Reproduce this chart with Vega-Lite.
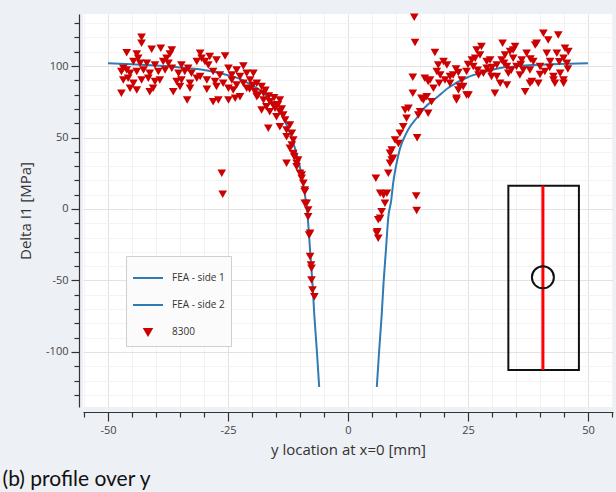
{
  "$schema": "https://vega.github.io/schema/vega-lite/v6.json",
  "width": 530,
  "height": 393,
  "autosize": "none",
  "padding": {"left": 83, "top": 14, "right": 3, "bottom": 85},
  "background": "#edf0f4",
  "config": {
    "view": {"fill": "white", "stroke": null},
    "font": "Open Sans",
    "axis": {"labelFont": "Open Sans", "titleFont": "Open Sans", "labelColor": "#444444", "titleColor": "#333333", "titleFontWeight": "normal", "domainColor": "#333333", "tickColor": "#333333", "domainWidth": 1.2, "tickWidth": 1.2}
  },
  "title": {"text": "(b) profile over y", "orient": "bottom", "anchor": "start", "dx": -16, "offset": 12, "fontSize": 21, "fontWeight": "normal", "font": "Lato", "color": "#111111"},
  "datasets": {
    "fea": [
      {"series": "FEA - side 1", "x": -50, "y": 102}, {"series": "FEA - side 1", "x": -45, "y": 101.3}, {"series": "FEA - side 1", "x": -40, "y": 100.4}, {"series": "FEA - side 1", "x": -37.7, "y": 100}, {"series": "FEA - side 1", "x": -35, "y": 99}, {"series": "FEA - side 1", "x": -30, "y": 97.3}, {"series": "FEA - side 1", "x": -28, "y": 96}, {"series": "FEA - side 1", "x": -25, "y": 93.5}, {"series": "FEA - side 1", "x": -22.5, "y": 91}, {"series": "FEA - side 1", "x": -20, "y": 86.5}, {"series": "FEA - side 1", "x": -18.3, "y": 83}, {"series": "FEA - side 1", "x": -16.5, "y": 77.5}, {"series": "FEA - side 1", "x": -14.8, "y": 71}, {"series": "FEA - side 1", "x": -13.5, "y": 64}, {"series": "FEA - side 1", "x": -12.1, "y": 53}, {"series": "FEA - side 1", "x": -11, "y": 42}, {"series": "FEA - side 1", "x": -10, "y": 29}, {"series": "FEA - side 1", "x": -9.4, "y": 18}, {"series": "FEA - side 1", "x": -8.8, "y": 6}, {"series": "FEA - side 1", "x": -8.4, "y": -5.6}, {"series": "FEA - side 1", "x": -7.9, "y": -28.7}, {"series": "FEA - side 1", "x": -7.4, "y": -52}, {"series": "FEA - side 1", "x": -7.0, "y": -75}, {"series": "FEA - side 1", "x": -6.5, "y": -98.6}, {"series": "FEA - side 1", "x": -6.0, "y": -124.5},
      {"series": "FEA - side 2", "x": 6.0, "y": -124.5}, {"series": "FEA - side 2", "x": 6.5, "y": -98.6}, {"series": "FEA - side 2", "x": 7.0, "y": -75}, {"series": "FEA - side 2", "x": 7.4, "y": -52}, {"series": "FEA - side 2", "x": 7.9, "y": -28.7}, {"series": "FEA - side 2", "x": 8.4, "y": -5.6}, {"series": "FEA - side 2", "x": 9.0, "y": 6}, {"series": "FEA - side 2", "x": 9.4, "y": 18}, {"series": "FEA - side 2", "x": 10.0, "y": 30}, {"series": "FEA - side 2", "x": 10.8, "y": 42}, {"series": "FEA - side 2", "x": 12, "y": 52}, {"series": "FEA - side 2", "x": 13, "y": 58}, {"series": "FEA - side 2", "x": 14.4, "y": 64}, {"series": "FEA - side 2", "x": 16, "y": 71}, {"series": "FEA - side 2", "x": 18.5, "y": 78}, {"series": "FEA - side 2", "x": 21, "y": 85}, {"series": "FEA - side 2", "x": 24.8, "y": 92}, {"series": "FEA - side 2", "x": 28, "y": 95.5}, {"series": "FEA - side 2", "x": 31.7, "y": 98.6}, {"series": "FEA - side 2", "x": 35, "y": 99.8}, {"series": "FEA - side 2", "x": 38.5, "y": 100.7}, {"series": "FEA - side 2", "x": 44, "y": 101.4}, {"series": "FEA - side 2", "x": 50, "y": 102}
    ],
    "meas": [
      {"x": -43.0, "y": 120.1}, {"x": -43.0, "y": 115.9}, {"x": -46.1, "y": 109.3}, {"x": -44.0, "y": 108.4}, {"x": -40.9, "y": 111.7}, {"x": -39.0, "y": 112.4}, {"x": -36.7, "y": 111.2}, {"x": -37.1, "y": 108.4}, {"x": -30.8, "y": 108.9}, {"x": -28.8, "y": 106.6}, {"x": -25.6, "y": 107.0}, {"x": -27.4, "y": 104.2}, {"x": -30.5, "y": 105.4},
      {"x": -46.8, "y": 98.4}, {"x": -44.7, "y": 103.1}, {"x": -43.7, "y": 105.4}, {"x": -43.3, "y": 101.9}, {"x": -41.9, "y": 101.9}, {"x": -40.2, "y": 100.7}, {"x": -38.5, "y": 103.1}, {"x": -37.8, "y": 105.4}, {"x": -37.4, "y": 101.9}, {"x": -34.7, "y": 100.7}, {"x": -33.3, "y": 98.4}, {"x": -31.5, "y": 103.1}, {"x": -29.8, "y": 103.1}, {"x": -29.1, "y": 100.7}, {"x": -24.9, "y": 98.4}, {"x": -23.2, "y": 97.2}, {"x": -21.8, "y": 100.0},
      {"x": -47.2, "y": 96.1}, {"x": -46.1, "y": 97.2}, {"x": -45.4, "y": 94.9}, {"x": -44.0, "y": 96.1}, {"x": -42.6, "y": 97.2}, {"x": -41.3, "y": 94.9}, {"x": -39.5, "y": 96.1}, {"x": -38.1, "y": 97.2}, {"x": -36.7, "y": 98.4}, {"x": -35.3, "y": 94.9}, {"x": -34.0, "y": 96.1}, {"x": -32.6, "y": 94.9}, {"x": -30.8, "y": 92.6}, {"x": -28.1, "y": 96.1}, {"x": -26.7, "y": 93.7}, {"x": -24.2, "y": 93.7}, {"x": -22.5, "y": 92.6}, {"x": -21.1, "y": 94.9}, {"x": -19.7, "y": 94.9},
      {"x": -46.8, "y": 90.2}, {"x": -45.8, "y": 91.4}, {"x": -44.7, "y": 87.9}, {"x": -43.0, "y": 90.2}, {"x": -41.6, "y": 91.4}, {"x": -40.2, "y": 89.1}, {"x": -39.2, "y": 90.2}, {"x": -35.7, "y": 89.1}, {"x": -34.7, "y": 90.2}, {"x": -32.9, "y": 87.9}, {"x": -31.5, "y": 91.4}, {"x": -29.4, "y": 90.2}, {"x": -27.7, "y": 89.1}, {"x": -26.0, "y": 87.9}, {"x": -24.2, "y": 90.2}, {"x": -23.2, "y": 86.7}, {"x": -21.8, "y": 87.9}, {"x": -20.4, "y": 90.2}, {"x": -19.0, "y": 87.9}, {"x": -18.0, "y": 85.6},
      {"x": -47.2, "y": 80.9}, {"x": -45.4, "y": 84.4}, {"x": -44.0, "y": 83.2}, {"x": -41.3, "y": 82.1}, {"x": -40.6, "y": 84.4}, {"x": -36.4, "y": 82.1}, {"x": -35.0, "y": 85.6}, {"x": -32.9, "y": 84.4}, {"x": -29.4, "y": 83.7}, {"x": -27.4, "y": 85.6}, {"x": -24.9, "y": 84.4}, {"x": -23.9, "y": 83.2}, {"x": -22.5, "y": 78.6}, {"x": -21.1, "y": 84.4}, {"x": -19.4, "y": 82.1}, {"x": -18.7, "y": 79.7}, {"x": -17.6, "y": 80.9},
      {"x": -33.5, "y": 76.2}, {"x": -28.1, "y": 75.1}, {"x": -24.9, "y": 76.2}, {"x": -23.5, "y": 77.4}, {"x": -19.0, "y": 78.6}, {"x": -17.6, "y": 76.2}, {"x": -16.3, "y": 75.1}, {"x": -14.2, "y": 76.2}, {"x": -15.6, "y": 72.7}, {"x": -17.0, "y": 71.6},
      {"x": -18.0, "y": 69.3}, {"x": -16.3, "y": 68.1}, {"x": -15.2, "y": 70.4}, {"x": -14.9, "y": 64.6}, {"x": -13.5, "y": 65.8}, {"x": -13.1, "y": 62.3}, {"x": -14.2, "y": 68.1},
      {"x": -16.6, "y": 56.4}, {"x": -14.2, "y": 57.6}, {"x": -12.8, "y": 55.3}, {"x": -12.1, "y": 58.8}, {"x": -11.7, "y": 52.9}, {"x": -12.8, "y": 50.6}, {"x": -11.4, "y": 48.3}, {"x": -11.7, "y": 44.8}, {"x": -12.1, "y": 42.5},
      {"x": -12.8, "y": 32.0}, {"x": -11.4, "y": 38.9}, {"x": -11.2, "y": 36.6}, {"x": -10.4, "y": 34.3}, {"x": -10.7, "y": 29.6}, {"x": -10.0, "y": 25.0}, {"x": -9.65, "y": 21.5}, {"x": -9.3, "y": 18.0}, {"x": -9.0, "y": 13.3}, {"x": -8.6, "y": 4.0}, {"x": -8.3, "y": -0.7}, {"x": -8.3, "y": -5.4}, {"x": -7.9, "y": -17.0}, {"x": -8.1, "y": -18.2}, {"x": -7.9, "y": -33.3}, {"x": -7.7, "y": -39.2}, {"x": -7.6, "y": -41.5}, {"x": -7.6, "y": -49.7}, {"x": -7.4, "y": -56.6}, {"x": -7.0, "y": -61.3}, {"x": -9.65, "y": 23.8}, {"x": -9.0, "y": 12.1}, {"x": -9.0, "y": 4.0}, {"x": -10.7, "y": 32.0},
      {"x": -26.3, "y": 25.0}, {"x": -26.1, "y": 10.3}, {"x": -27.0, "y": 76.2},
      {"x": -20.5, "y": 84}, {"x": -19.8, "y": 86.5}, {"x": -17.2, "y": 83}, {"x": -16.5, "y": 79}, {"x": -15.4, "y": 77.8}, {"x": -14.6, "y": 73}, {"x": -13.8, "y": 70},
      {"x": 5.8, "y": 21.5}, {"x": 7.4, "y": 9.8}, {"x": 8.1, "y": 11.0}, {"x": 7.7, "y": 4.0}, {"x": 7.0, "y": -1.9}, {"x": 6.7, "y": -6.5}, {"x": 6.1, "y": -15.9}, {"x": 6.3, "y": -20.5}, {"x": 8.75, "y": 32.0}, {"x": 9.4, "y": 35.5}, {"x": 8.4, "y": 25.0}, {"x": 9.1, "y": 41.3}, {"x": 6.7, "y": 11.0}, {"x": 6.3, "y": -7.6}, {"x": 6.0, "y": -17.0}, {"x": 9.1, "y": 34.3}, {"x": 8.75, "y": 39.0}, {"x": 9.8, "y": 48.3}, {"x": 10.8, "y": 53.0}, {"x": 10.5, "y": 45.9}, {"x": 11.5, "y": 57.6}, {"x": 12.2, "y": 63.4}, {"x": 12.6, "y": 70.4}, {"x": 11.9, "y": 69.3}, {"x": 14.65, "y": 65.8}, {"x": 15.7, "y": 76.3}, {"x": 15.3, "y": 77.4}, {"x": 16.4, "y": 78.6}, {"x": 17.4, "y": 75.1}, {"x": 16.7, "y": 67.0}, {"x": 15.0, "y": 68.1},
      {"x": 13.8, "y": 134.1}, {"x": 13.96, "y": 116.4}, {"x": 18.1, "y": 109.4}, {"x": 13.5, "y": 92.1}, {"x": 13.5, "y": 80.9}, {"x": 14.4, "y": 49.9}, {"x": 14.2, "y": 9.1}, {"x": 14.3, "y": -1.1},
      {"x": 16.0, "y": 91.4}, {"x": 16.7, "y": 89.1}, {"x": 17.8, "y": 84.4}, {"x": 18.5, "y": 96.1}, {"x": 19.2, "y": 93.7}, {"x": 19.9, "y": 103.1}, {"x": 20.6, "y": 100.7}, {"x": 20.2, "y": 90.2}, {"x": 21.25, "y": 87.9}, {"x": 21.9, "y": 93.7}, {"x": 22.6, "y": 76.3}, {"x": 23.0, "y": 83.3}, {"x": 23.7, "y": 90.2}, {"x": 24.0, "y": 85.6}, {"x": 24.7, "y": 96.1}, {"x": 25.1, "y": 79.8}, {"x": 25.8, "y": 104.2}, {"x": 26.1, "y": 99.6}, {"x": 26.8, "y": 111.2}, {"x": 27.5, "y": 107.7}, {"x": 27.8, "y": 113.6}, {"x": 28.2, "y": 94.9}, {"x": 28.9, "y": 103.1}, {"x": 29.6, "y": 96.1}, {"x": 29.9, "y": 92.6}, {"x": 30.6, "y": 80.9}, {"x": 31.0, "y": 100.7}, {"x": 31.7, "y": 87.9}, {"x": 32.0, "y": 104.2}, {"x": 32.2, "y": 115.9}, {"x": 33.1, "y": 99.6}, {"x": 33.4, "y": 94.9}, {"x": 33.75, "y": 110.1}, {"x": 34.4, "y": 105.4}, {"x": 34.8, "y": 113.6}, {"x": 35.1, "y": 99.6}, {"x": 35.8, "y": 93.7}, {"x": 36.2, "y": 104.2}, {"x": 36.9, "y": 82.1}, {"x": 37.2, "y": 108.9}, {"x": 37.9, "y": 97.2}, {"x": 38.3, "y": 89.1}, {"x": 38.6, "y": 103.1}, {"x": 39.3, "y": 115.9}, {"x": 39.65, "y": 87.9}, {"x": 40.0, "y": 99.6}, {"x": 40.7, "y": 122.9}, {"x": 41.0, "y": 96.1}, {"x": 41.7, "y": 118.2}, {"x": 42.1, "y": 103.1}, {"x": 42.8, "y": 92.6}, {"x": 43.1, "y": 87.9}, {"x": 43.5, "y": 108.9}, {"x": 43.8, "y": 121.7}, {"x": 44.2, "y": 94.9}, {"x": 44.9, "y": 90.2}, {"x": 45.2, "y": 112.4}, {"x": 45.6, "y": 101.9}, {"x": 45.9, "y": 110.1}, {"x": 44.9, "y": 105.4},
      {"x": 17.1, "y": 90.2}, {"x": 18.8, "y": 100.7}, {"x": 21.25, "y": 92.6}, {"x": 22.6, "y": 77.4}, {"x": 23.3, "y": 85.6}, {"x": 24.7, "y": 79.8}, {"x": 26.5, "y": 105.4}, {"x": 27.2, "y": 93.7}, {"x": 28.9, "y": 98.4}, {"x": 29.6, "y": 104.2}, {"x": 31.0, "y": 92.6}, {"x": 32.7, "y": 107.7}, {"x": 33.1, "y": 86.8}, {"x": 34.4, "y": 111.2}, {"x": 36.5, "y": 97.2}, {"x": 37.9, "y": 87.9}, {"x": 39.0, "y": 114.7}, {"x": 41.4, "y": 108.9}, {"x": 42.8, "y": 90.2}, {"x": 44.9, "y": 87.9},
      {"x": 22.5, "y": 98}, {"x": 25, "y": 101}, {"x": 27, "y": 97}, {"x": 30, "y": 99}, {"x": 32.5, "y": 102}, {"x": 34, "y": 97}, {"x": 36, "y": 101}, {"x": 38, "y": 105}, {"x": 40, "y": 94}, {"x": 42, "y": 99}, {"x": 44, "y": 103}, {"x": 45.8, "y": 98}, {"x": 23, "y": 95.5}, {"x": 19, "y": 88}
    ],
    "insetBox": [{"x": 33.4, "x2": 48.1, "y": 16.3, "y2": -112.6}],
    "insetLine": [{"x": 40.6, "y": 16.3, "y2": -112.6}],
    "insetHole": [{"x": 40.6, "y": -47.8}]
  },
  "encoding": {
    "x": {
      "field": "x", "type": "quantitative",
      "scale": {"domain": [-55.2, 55.2], "nice": false, "zero": false},
      "axis": {
        "title": "y location at x=0 [mm]", "titleFontSize": 15, "titlePadding": 7,
        "values": [-55, -50, -45, -40, -35, -30, -25, -20, -15, -10, -5, 0, 5, 10, 15, 20, 25, 30, 35, 40, 45, 50, 55],
        "labelExpr": "datum.value % 25 === 0 ? '' + datum.value : ''",
        "labelFontSize": 11, "labelPadding": 3, "offset": 5,
        "tickSize": {"condition": {"test": "datum.value % 25 === 0", "value": 9}, "value": 5},
        "grid": true,
        "gridColor": {"condition": {"test": "datum.value % 25 === 0", "value": "#e2e2e2"}, "value": "#f3f3f3"},
        "gridWidth": 1
      }
    },
    "y": {
      "field": "y", "type": "quantitative",
      "scale": {"domain": [-138.5, 136.4], "nice": false, "zero": false},
      "axis": {
        "title": "Delta I1 [MPa]", "titleFontSize": 15, "titlePadding": 12,
        "values": [-130, -120, -110, -100, -90, -80, -70, -60, -50, -40, -30, -20, -10, 0, 10, 20, 30, 40, 50, 60, 70, 80, 90, 100, 110, 120, 130],
        "labelExpr": "datum.value % 50 === 0 ? '' + datum.value : ''",
        "labelFontSize": 11, "labelPadding": 3, "offset": 4,
        "tickSize": {"condition": {"test": "datum.value % 50 === 0", "value": 8}, "value": 5},
        "grid": true,
        "gridColor": {"condition": {"test": "datum.value % 50 === 0", "value": "#e2e2e2"}, "value": "#f3f3f3"},
        "gridWidth": 1
      }
    }
  },
  "layer": [
    {
      "data": {"name": "fea"},
      "mark": {"type": "line", "strokeWidth": 2, "interpolate": "monotone"},
      "encoding": {
        "color": {
          "field": "series", "type": "nominal",
          "scale": {"domain": ["FEA - side 1", "FEA - side 2", "8300"], "range": ["#2f7bb6", "#2f7bb6", "#cc0000"]},
          "legend": {
            "title": null, "orient": "none", "legendX": 43, "legendY": 242,
            "fillColor": "#fbfbfb", "strokeColor": "#cfcfcf", "padding": 6,
            "labelFont": "Open Sans", "labelFontSize": 10, "labelColor": "#333333",
            "symbolSize": 900, "rowPadding": 6, "labelOffset": 8,
            "encode": {
              "symbols": {
                "update": {
                  "fill": {"signal": "datum.value === '8300' ? '#cc0000' : 'transparent'"},
                  "stroke": {"signal": "datum.value === '8300' ? 'transparent' : '#2f7bb6'"},
                  "strokeWidth": {"value": 2},
                  "size": {"signal": "datum.value === '8300' ? 50 : 900"},
                  "opacity": {"value": 1}
                }
              }
            }
          }
        },
        "detail": {"field": "series"}
      }
    },
    {
      "data": {"name": "meas"},
      "transform": [{"calculate": "'8300'", "as": "series"}],
      "mark": {"type": "point", "filled": true, "size": 75, "opacity": 1},
      "encoding": {
        "color": {"field": "series", "type": "nominal"},
        "shape": {
          "field": "series", "type": "nominal",
          "scale": {"domain": ["FEA - side 1", "FEA - side 2", "8300"], "range": ["stroke", "stroke", "triangle-down"]}
        }
      }
    },
    {
      "data": {"name": "insetBox"},
      "mark": {"type": "rect", "fill": null, "stroke": "#111111", "strokeWidth": 2},
      "encoding": {"x2": {"field": "x2"}, "y2": {"field": "y2"}}
    },
    {
      "data": {"name": "insetLine"},
      "mark": {"type": "rule", "color": "#ff0000", "strokeWidth": 3},
      "encoding": {"y2": {"field": "y2"}}
    },
    {
      "data": {"name": "insetHole"},
      "mark": {"type": "point", "shape": "circle", "filled": false, "size": 484, "stroke": "#111111", "strokeWidth": 2, "opacity": 1},
      "encoding": {}
    }
  ]
}
